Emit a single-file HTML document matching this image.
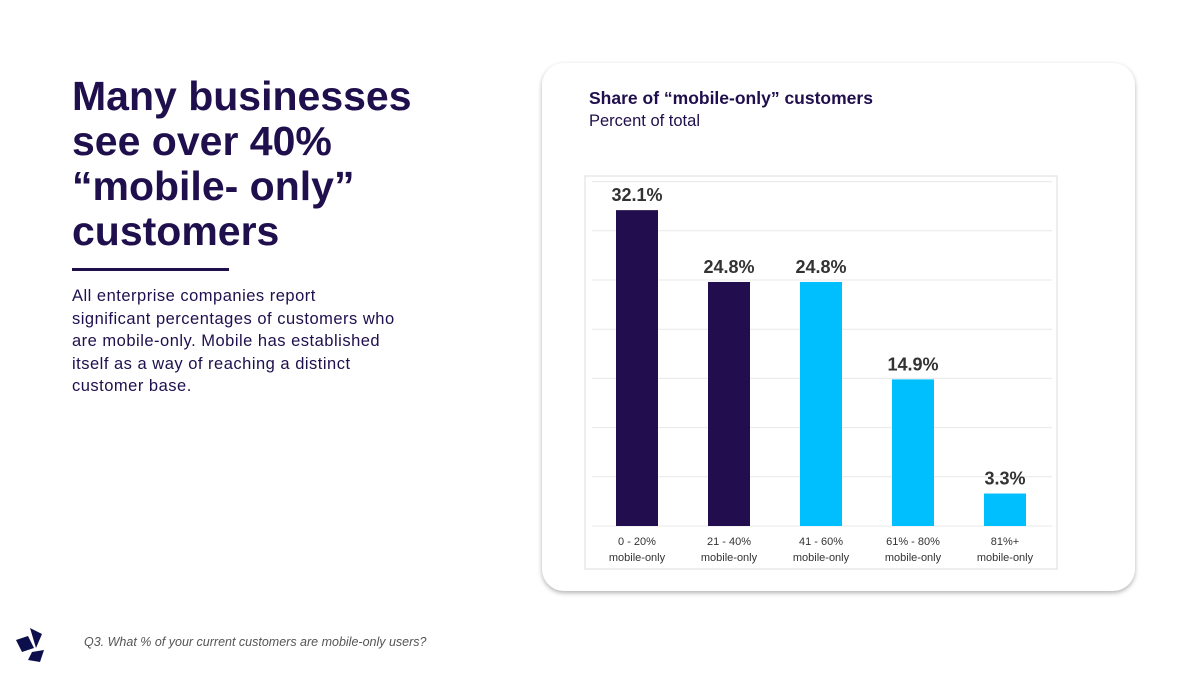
<!DOCTYPE html>
<html><head><meta charset="utf-8"><style>
body{margin:0;width:1200px;height:675px;background:#fff;position:relative;overflow:hidden;font-family:"Liberation Sans",sans-serif;}
.abs{position:absolute;}
</style></head><body>
<div class="abs" style="left:72px;top:74px;width:440px;font-size:41px;font-weight:bold;line-height:45px;color:#1f0f4d;white-space:nowrap;">Many businesses<br>see over 40%<br>“mobile- only”<br>customers</div>
<div class="abs" style="left:72px;top:268px;width:157px;height:3px;background:#1f0f4d;"></div>
<div class="abs" style="left:72px;top:285px;width:400px;font-size:16.5px;line-height:22.5px;color:#1f0f4d;white-space:nowrap;letter-spacing:0.5px;">All enterprise companies report<br>significant percentages of customers who<br>are mobile-only. Mobile has established<br>itself as a way of reaching a distinct<br>customer base.</div>
<svg class="abs" style="left:14px;top:626px" width="36" height="40" viewBox="0 0 36 40">
<polygon points="2,14 14,10 20,22 8,26" fill="#0d0f4d"/><polygon points="16,2 28,8 22,22" fill="#0d0f4d"/><polygon points="18,26 30,24 26,36 14,34" fill="#0d0f4d"/>
</svg>
<div class="abs" style="left:84px;top:635px;font-size:12.5px;font-style:italic;color:#555;">Q3. What % of your current customers are mobile-only users?</div>
<div class="abs" style="left:542px;top:63px;width:593px;height:528px;border-radius:22px;background:#fff;box-shadow:0 2px 5px rgba(0,0,0,0.3);"></div>
<div class="abs" style="left:589px;top:88px;font-size:17.5px;font-weight:bold;color:#1f0f4d;">Share of “mobile-only” customers</div>
<div class="abs" style="left:589px;top:112px;font-size:16.5px;color:#1f0f4d;">Percent of total</div>
<svg class="abs" id="chart" style="left:0;top:0" width="1200" height="675"></svg>
<script>
const categories=[["0 - 20%","mobile-only"],["21 - 40%","mobile-only"],["41 - 60%","mobile-only"],["61% - 80%","mobile-only"],["81%+","mobile-only"]];
const values=[32.1,24.8,24.8,14.9,3.3];
const labels=["32.1%","24.8%","24.8%","14.9%","3.3%"];
const colors=["#220d4e","#220d4e","#00bfff","#00bfff","#00bfff"];
const gridTicks=[0,5,10,15,20,25,30,35];
const svg=document.getElementById('chart');
const NS='http://www.w3.org/2000/svg';
const x0=585,x1=1057,baseY=526,scale=9.84,step=92,firstC=637,bw=42;
const y=v=>baseY-v*scale;
const xc=i=>firstC+i*step;
function mk(t,a){const e=document.createElementNS(NS,t);for(const k in a)e.setAttribute(k,a[k]);svg.appendChild(e);return e;}
let fr=mk('rect',{x:x0,y:176,width:x1-x0,height:393,fill:'none',stroke:'#ddd','stroke-width':1});


gridTicks.forEach(t=>{const l=mk('line',{x1:592,x2:1052,y1:y(t),y2:y(t),stroke:'#e8e8e8','stroke-width':1});

});
values.forEach((v,i)=>{
const r=mk('rect',{x:xc(i)-bw/2,y:y(v),width:bw,height:v*scale,fill:colors[i]});


const t=mk('text',{x:xc(i),y:y(v)-9,'text-anchor':'middle','font-size':18,'font-weight':'bold',fill:'#333','font-family':'Liberation Sans, sans-serif'});
t.textContent=labels[i];


categories[i].forEach((s,j)=>{const c=mk('text',{x:xc(i),y:545+j*16,'text-anchor':'middle','font-size':11,fill:'#333','font-family':'Liberation Sans, sans-serif'});
c.textContent=s;

});
});
</script>
</body></html>
